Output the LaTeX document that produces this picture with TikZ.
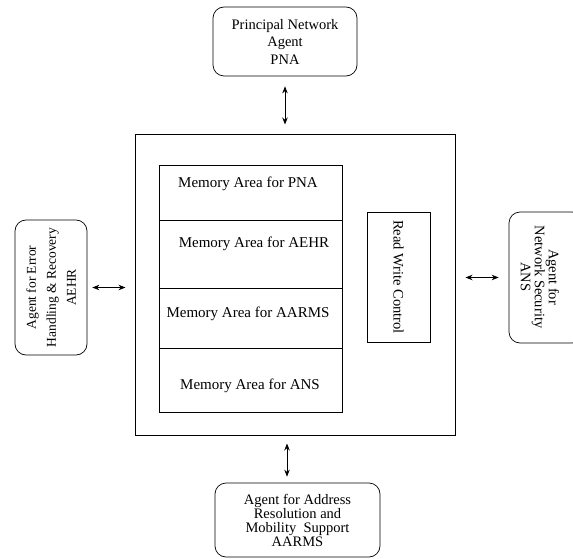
\documentclass[tikz,border=0pt]{standalone}
\usepackage{fontspec}
\setmainfont{Liberation Serif}
\usetikzlibrary{arrows.meta}
\begin{document}
\begin{tikzpicture}[x=1pt,y=1pt,
  agent/.style={draw, rounded corners=11pt, line width=0.7pt, inner sep=0pt, align=center},
  cell/.style={draw, line width=0.7pt, minimum width=183pt, inner sep=0pt},
  memtext/.style={font=\fontsize{15}{17}\selectfont, inner sep=0pt},
  arr/.style={{Stealth[length=7pt,width=5.5pt]}-{Stealth[length=7pt,width=5.5pt]}, line width=0.8pt}]
\useasboundingbox (0,0) rectangle (573,-559);

% main store
\node[draw, line width=1pt, minimum width=320pt, minimum height=300pt, inner sep=0pt] (main) at (295,-285) {};

% memory cells
\node[cell, minimum height=55pt] (m1) at (250.5,-192.5) {};
\node[cell, minimum height=68pt] (m2) at (250.5,-254) {};
\node[cell, minimum height=60pt] (m3) at (250.5,-318) {};
\node[cell, minimum height=64pt] (m4) at (250.5,-380) {};
\node[memtext] (t1) at (248,-184) {Memory Area for PNA};
\node[memtext] (t2) at (254,-244) {Memory Area for AEHR};
\node[memtext] (t3) at (248,-314) {Memory Area for AARMS};
\node[memtext] (t4) at (250,-386) {Memory Area for ANS};

% read write control
\node[draw, line width=0.7pt, rotate=-90, minimum width=130pt, minimum height=63pt, inner sep=0pt,
      font=\fontsize{14.5}{17}\selectfont] (rw) at (398.5,-277) {Read Write Control};

% agents
\node[agent, minimum width=144pt, minimum height=69pt, font=\fontsize{14.5}{17.5}\selectfont]
  (pna) at (285,-41.5) {Principal Network\\Agent\\PNA};
\node[agent, rotate=90, minimum width=135pt, minimum height=72pt, font=\fontsize{13.5}{20}\selectfont]
  (aehr) at (51,-287.5) {Agent for Error\\Handling \& Recovery\\AEHR};
\node[agent, minimum width=165pt, minimum height=74pt, font=\fontsize{14.5}{14}\selectfont]
  (aarms) at (297.5,-520) {Agent for Address\\Resolution and\\Mobility\ \ Support\\AARMS};
\node[agent, rotate=-90, minimum width=131pt, minimum height=74pt] (ans) at (546,-277.5) {};
\node[rotate=-90, align=center, inner sep=0pt, font=\fontsize{14.5}{14}\selectfont]
  (anstext) at (540,-277) {Agent for\\Network Security\\ANS};

% connectors
\draw[arr, shorten <=10pt, shorten >=10pt] (pna.south) -- (pna.south |- main.north);
\draw[arr, shorten <=8pt, shorten >=6pt] ([xshift=-8pt]main.south) -- ([xshift=-8pt]main.south |- aarms.north);
\draw[arr, shorten <=5pt, shorten >=9pt] (aehr.south) -- (aehr.south -| main.west);
\draw[arr, shorten <=10pt, shorten >=10pt] (main.east |- ans.south) -- (ans.south);
\end{tikzpicture}
\end{document}
